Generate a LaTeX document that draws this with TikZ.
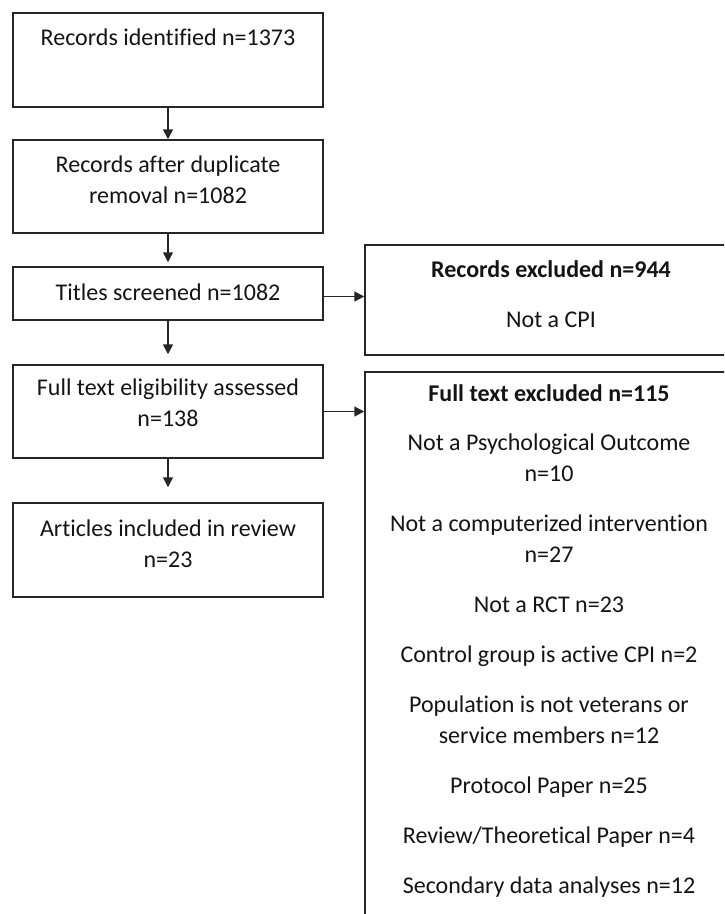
\documentclass[tikz,border=0pt]{standalone}
\usepackage{fontspec}
\setmainfont{Carlito}[Ligatures=NoCommon]
\usetikzlibrary{arrows.meta}
\begin{document}
\begin{tikzpicture}[x=1pt,y=-1pt,
  box/.style={draw=black!85, line width=1.5pt, rectangle, inner sep=0pt},
  txt/.style={anchor=base, align=center, inner sep=0pt,
    font=\fontsize{24}{31}\selectfont, text=black!92},
  arr/.style={draw=black!85, line width=1.5pt, -{Triangle[length=10pt,width=10pt]}}]
\useasboundingbox (0,0) rectangle (724,914);
\clip (0,0) rectangle (724,914);

% main flow (left column)
\node[box, minimum width=310pt, minimum height=94pt] (b1) at (168,60) {};
\node[box, minimum width=310pt, minimum height=93pt] (b2) at (168,186.5) {};
\node[box, minimum width=310pt, minimum height=53pt] (b3) at (168,293.5) {};
\node[box, minimum width=310pt, minimum height=93pt] (b4) at (168,411.5) {};
\node[box, minimum width=310pt, minimum height=94pt] (b5) at (168,550) {};

% texts are placed by the baseline of their last line
\node[txt] (t1) at (168,45) {Records identified n=1373};
\node[txt] (t2) at (168,203) {Records after duplicate\\removal n=1082};
\node[txt] (t3) at (168,300) {Titles screened n=1082};
\node[txt] (t4) at (168,426) {Full text eligibility assessed\\n=138};
\node[txt] (t5) at (168,567) {Articles included in review\\n=23};

% exclusion boxes (right column)
\node[box, minimum width=368pt, minimum height=110pt] (r1) at (549,300) {};
\node[box, minimum width=368pt, minimum height=568pt] (r2) at (549,656) {};

\node[txt] (u1) at (551,327) {\textbf{Records excluded n=944}\\[19pt]Not a CPI};
\node[txt] (u2) at (549,893) {\textbf{Full text excluded n=115}\\[18pt]
  Not a Psychological Outcome\\n=10\\[19pt]
  Not a computerized intervention\\n=27\\[19pt]
  Not a RCT n=23\\[19pt]
  Control group is active CPI n=2\\[19pt]
  Population is not veterans or\\service members n=12\\[19pt]
  Protocol Paper n=25\\[19pt]
  Review/Theoretical Paper n=4\\[19pt]
  Secondary data analyses n=12};

% connectors
\draw[arr] (b1) -- (b2);
\draw[arr, shorten >=4pt] (b2) -- (b3);
\draw[arr, shorten >=10pt] (b3) -- (b4);
\draw[arr, shorten >=15pt] (b4) -- (b5);
\draw[arr] ([yshift=-3pt]b3.east) -- ([yshift=-3pt]b3.east -| r1.west);
\draw[arr] (b4.east) -- (b4.east -| r2.west);
\end{tikzpicture}
\end{document}
